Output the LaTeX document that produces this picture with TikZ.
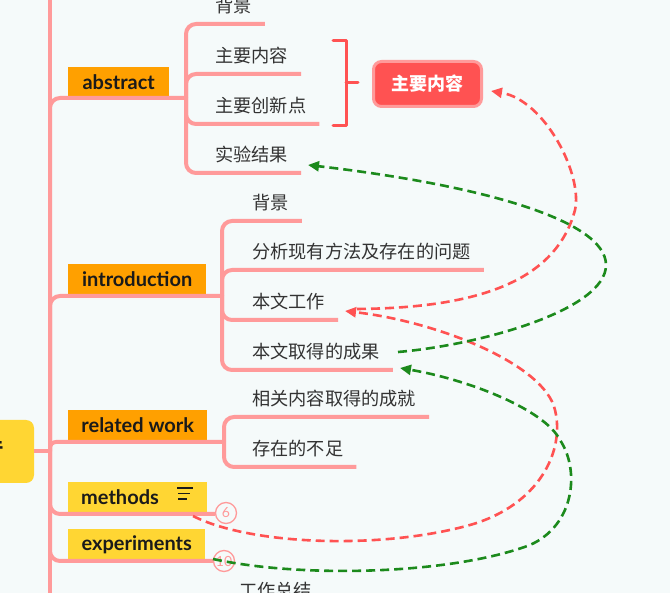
\documentclass[tikz,border=0pt]{standalone}
\usepackage{fontspec}
\setmainfont{Lato}
\newfontfamily\cjk{Noto Sans CJK SC}
\usetikzlibrary{arrows.meta,calc}
\definecolor{bg}{HTML}{F5FAFA}
\definecolor{branch}{HTML}{FF9A9A}
\definecolor{orangebox}{HTML}{FFA000}
\definecolor{yellowbox}{HTML}{FFD633}
\definecolor{redline}{HTML}{FF5252}
\definecolor{greenline}{HTML}{1C8A1C}
\definecolor{txt}{HTML}{333333}
\definecolor{headtxt}{HTML}{1A1A1A}
\begin{document}
\begin{tikzpicture}[x=1pt,y=-1pt,
  branchline/.style={draw=branch, line width=4pt, rounded corners=10pt},
  headbox/.style={inner sep=0pt, minimum height=31pt, anchor=south west, text=headtxt,
    font=\bfseries\fontsize{20}{22}\selectfont},
  childtext/.style={anchor=west, inner sep=0pt, text=txt, font=\cjk\fontsize{18.2}{20}\selectfont},
  bracketline/.style={draw=redline, line width=3pt, line cap=round, line join=round},
  numcircle/.style={circle, draw=branch, line width=1.3pt, fill=bg, minimum size=21pt, inner sep=0pt,
    text=branch, font=\fontsize{14}{15}\selectfont},
  redarrow/.style={draw=redline, line width=2.6pt, dash pattern=on 9pt off 5pt, -{Triangle[length=11pt,width=10pt]}},
  greenarrow/.style={draw=greenline, line width=2.6pt, dash pattern=on 9pt off 5pt, -{Triangle[length=11pt,width=10pt]}},
  icon/.style={draw=headtxt, line width=1.3pt}
]
\fill[bg] (0,0) rectangle (670,593);
\useasboundingbox (0,0) rectangle (670,593);

% trunk
\coordinate (ttop) at (50,-10);
\coordinate (tbot) at (50,603);
\draw[branchline] (ttop) -- (tbot);

% root node
\node[fill=yellowbox, rounded corners=8pt, minimum width=64pt, minimum height=63pt, inner sep=0pt] (root) at (2,451.5) {};
\node[anchor=east, inner sep=0pt, text=headtxt, font=\cjk\bfseries\fontsize{18}{20}\selectfont] (roottext) at (4,447) {件};
\coordinate (J0) at (50,451.5);
\draw[branchline] (root.east) -- (J0);

% ---------- abstract ----------
\node[headbox, fill=orangebox, minimum width=101pt] (abs) at (68,98) {abstract};
\coordinate (Jabs) at (186,98);
\draw[branchline] (J0) -- (50,98) -- (Jabs);
\node[childtext] (a1) at (215,6) {背景};
\node[childtext] (a2) at (215,56) {主要内容};
\node[childtext] (a3) at (215,106) {主要创新点};
\node[childtext] (a4) at (215,155) {实验结果};
\foreach \n in {a1,a2,a3,a4}{
  \draw[branchline] (Jabs) |- ([xshift=13pt,yshift=-18pt]\n.east);
}

% summary bracket
\coordinate (bt) at (333,41);
\coordinate (bb) at (333,126);
\coordinate (bm) at (346,83);
\draw[bracketline] (bt) -- (346,41) -- (346,126) -- (bb);
\draw[bracketline] (bm) -- ++(12,0);
\node[fill=redline, draw=branch, line width=3pt, rounded corners=8pt, minimum width=108pt, minimum height=45pt,
  inner sep=0pt, text=white, font=\cjk\bfseries\fontsize{18}{20}\selectfont] (summ) at (427.5,84) {主要内容};

% ---------- introduction ----------
\node[headbox, fill=orangebox, minimum width=138pt] (intro) at (68,295) {introduction};
\coordinate (Jint) at (222,296);
\draw[branchline] (J0) -- (50,296) -- (Jint);
\node[childtext] (i1) at (252,203) {背景};
\node[childtext] (i2) at (252,252) {分析现有方法及存在的问题};
\node[childtext] (i3) at (252,302) {本文工作};
\node[childtext] (i4) at (252,352) {本文取得的成果};
\foreach \n in {i1,i2,i3,i4}{
  \draw[branchline] (Jint) |- ([xshift=13pt,yshift=-18pt]\n.east);
}

% ---------- related work ----------
\node[headbox, fill=orangebox, minimum width=139pt] (rel) at (68,441) {related work};
\coordinate (Jrel) at (224,442);
\draw[branchline, rounded corners=6pt] (J0) -- (50,442) -- (Jrel);
\node[childtext] (r1) at (252,399) {相关内容取得的成就};
\node[childtext] (r2) at (252,449) {存在的不足};
\foreach \n in {r1,r2}{
  \draw[branchline] (Jrel) |- ([xshift=13pt,yshift=-18pt]\n.east);
}

% ---------- methods ----------
\node[headbox, fill=yellowbox, minimum width=139pt, text width=139pt, align=left, inner xsep=0pt] (meth) at (68,513) {\hspace*{13pt}methods};
\coordinate (Jmeth) at (215,514);
\draw[branchline] (J0) -- (50,514) -- (Jmeth);
\draw[icon] (177,488) -- (193,488);
\draw[icon] (178,493.5) -- (190,493.5);
\draw[icon] (178,499) -- (187,499);
\node[numcircle] (c6) at (226,513) {6};

% ---------- experiments ----------
\node[headbox, fill=yellowbox, minimum width=137pt] (exper) at (68,560) {experiments};
\coordinate (Jexp) at (215,561);
\draw[branchline] (J0) -- (50,561) -- (Jexp);
\node[numcircle] (c10) at (224,561) {10};

% next branch text
\node[childtext] (w1) at (239,591) {工作总结};

% ---------- dashed relation arrows ----------
\coordinate (R1s) at (357,309);
\coordinate (R1e) at (491,91);
\draw[redarrow] (R1s) .. controls (470,308) and (555,285) .. (575,210)
                      .. controls (583,175) and (545,100) .. (R1e);

\coordinate (R2s) at (193,516);
\coordinate (R2e) at (345,311);
\draw[redarrow] (R2s) .. controls (250,545) and (380,550) .. (470,525)
                      .. controls (540,505) and (565,450) .. (555,410)
                      .. controls (545,365) and (440,322) .. (R2e);

\coordinate (G1s) at (398,352);
\coordinate (G1e) at (308,165);
\draw[greenarrow] (G1s) .. controls (480,345) and (606,310) .. (606,265)
                        .. controls (606,220) and (480,185) .. (G1e);

\coordinate (G2s) at (213,559);
\coordinate (G2e) at (400,368);
\draw[greenarrow] (G2s) .. controls (300,578) and (450,575) .. (530,545)
                        .. controls (575,525) and (580,470) .. (560,440)
                        .. controls (545,410) and (470,380) .. (G2e);
\end{tikzpicture}
\end{document}
